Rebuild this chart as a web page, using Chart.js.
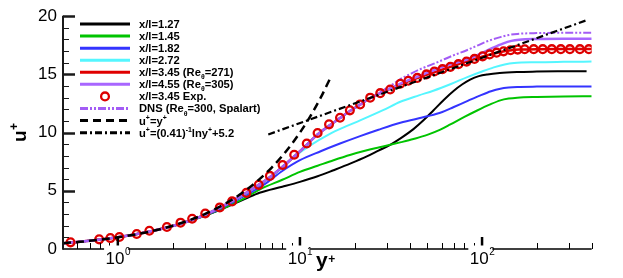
<!DOCTYPE html>
<html><head><meta charset="utf-8">
<script src="https://cdn.jsdelivr.net/npm/chart.js@4.4.1/dist/chart.umd.min.js"></script>
<style>html,body{margin:0;padding:0;background:#fff}#wrap{width:623px;height:278px}</style>
</head><body><div id="wrap"><canvas id="c" width="623" height="278"></canvas></div>
<script>
// ---------- data ----------
const yTickValues = [0, 5, 10, 15, 20];
const xMajorTicks = [1, 10, 100];
const xMajorExp = ['0', '1', '2'];

const yp127 = [0.5,0.7,1,1.5,2,2.5,3,3.5,4.3,5,6,8,10,12.5,15.3,19,23.3,27,31.3,36,42,48,54,62,70,78,86,96,107,125,156,200,260,375];
const up127 = [0.5,0.7,1,1.5,1.97,2.42,2.85,3.25,3.85,4.3,4.83,5.35,5.77,6.25,6.77,7.35,7.95,8.45,8.95,9.55,10.3,11.1,11.9,12.85,13.6,14.15,14.55,14.85,15.0,15.12,15.2,15.24,15.27,15.28];

const yp145 = [0.5,0.7,1,1.5,2,2.5,3,3.5,3.95,5,6,8,10,12.5,15.3,19,23.3,27,31.3,36,42,50,59,67,80,94,110,126,140,156,200,280,400];
const up145 = [0.5,0.7,1,1.5,1.97,2.43,2.87,3.28,3.63,4.4,5.11,5.95,6.62,7.15,7.63,8.1,8.48,8.72,8.95,9.18,9.45,9.8,10.25,10.7,11.35,11.9,12.4,12.77,12.92,13.0,13.06,13.1,13.12];

const yp182 = [0.5,0.7,1,1.5,2,2.5,3,3.5,4.67,5.5,6.55,8,10,13,16.6,21.4,27,35.6,50,60,70,84,98,112,126,140,156,200,280,400];
const up182 = [0.5,0.7,1,1.5,1.97,2.44,2.9,3.33,4.34,4.95,5.68,6.7,7.63,8.4,9.06,9.7,10.25,10.85,11.4,11.75,12.2,12.75,13.2,13.55,13.77,13.87,13.92,13.95,13.96,13.97];

const yp272 = [0.5,0.7,1,1.5,2,2.5,3,4,5,6,7.5,9.2,11,14.6,18,21.4,28.8,35.6,45,54,68,83,100,116,133,150,200,280,400];
const up272 = [0.5,0.7,1,1.5,1.97,2.44,2.92,3.88,4.72,5.5,6.6,7.85,8.75,9.9,10.55,11.05,11.95,12.65,13.2,13.6,14.2,14.77,15.25,15.6,15.85,15.98,16.05,16.08,16.1];

const yp345 = [0.5,0.7,1,1.5,2,2.5,3,4,5,6,7,8,9.3,10.9,12.5,14.5,16.6,18.8,21.4,24.3,27.6,31.3,35.6,40,45,50,55,62,70,80,90,100,115,130,145,160,200,280,400];
const up345 = [0.5,0.7,1,1.5,1.97,2.45,2.93,3.9,4.78,5.55,6.3,7.05,7.95,8.95,9.85,10.6,11.25,11.85,12.4,12.95,13.4,13.75,14.15,14.45,14.72,14.98,15.2,15.47,15.75,16.05,16.3,16.52,16.78,16.97,17.08,17.13,17.17,17.18,17.18];

const yp455 = [0.5,0.7,1,1.5,2,2.5,3,4,5,6,7,8,9.3,10.9,12.5,14.5,16.6,18.8,21.4,24.3,27.6,31.3,35.6,40,45,50,55,62,70,80,90,100,115,130,145,160,200,280,400];
const up455 = [0.5,0.7,1,1.5,1.97,2.45,2.93,3.9,4.78,5.55,6.3,7.05,7.95,8.95,9.85,10.6,11.25,11.85,12.4,12.95,13.4,13.78,14.2,14.55,14.85,15.15,15.4,15.7,15.95,16.2,16.52,16.85,17.3,17.65,17.88,17.98,18.04,18.06,18.06];

const ypDNS = [0.5,0.7,1,1.5,2,2.5,3,4,5,6,7,8,9.3,10.9,12.5,14.5,16.6,18.8,21.4,24.3,27.6,31.3,35.6,40,45,54,62,70,83,95,105,126,140,156,200,280,400];
const upDNS = [0.5,0.7,1,1.5,1.97,2.45,2.93,3.9,4.78,5.55,6.3,7.05,7.95,8.95,9.85,10.6,11.25,11.85,12.4,12.97,13.5,14.0,14.6,15.0,15.4,15.9,16.3,16.65,17.1,17.5,17.8,18.2,18.38,18.48,18.55,18.57,18.57];

const ypExp = [0.55,0.79,0.91,1.02,1.27,1.49,1.86,2.21,2.56,3.02,3.63,4.24,5.08,5.94,6.84,8.03,9.3,10.9,12.5,14.45,16.6,18.8,21.4,24.3,27.6,31.3,35.6,39.4,44.1,49.5,54.7,60.6,67.0,74.2,82.2,90.9,100.7,110,120.2,131.3,143.5,156.9,171.4,192.2,215.4,241.5,270.7,303.6,344.5,386];
const upExp = [0.57,0.83,0.94,1.03,1.29,1.57,1.89,2.26,2.6,3.05,3.57,4.09,4.82,5.51,6.28,7.22,8.1,9.06,9.97,10.71,11.28,11.91,12.42,13.0,13.39,13.7,14.2,14.45,14.7,15.0,15.25,15.45,15.65,15.88,16.1,16.33,16.55,16.72,16.87,16.98,17.08,17.13,17.16,17.17,17.17,17.17,17.17,17.17,17.17,17.17];

const ypLin = [0.5,0.6,0.7,0.85,1,1.2,1.5,2,2.5,3,4,5,6,7,8,9,10,11.5,13,14.7];
const upLin = [0.5,0.6,0.7,0.85,1,1.2,1.5,2,2.5,3,4,5,6,7,8,9,10,11.5,13,14.7];

const ypLog = [6.7, 370];
const upLog = [9.84, 19.62];

const legendLabels = [
  'x/l=1.27', 'x/l=1.45', 'x/l=1.82', 'x/l=2.72',
  'x/l=3.45 (Re_{θ}=271)', 'x/l=4.55 (Re_{θ}=305)', 'x/l=3.45 Exp.',
  'DNS (Re_{θ}=300, Spalart)', 'u^{+}=y^{+}', 'u^{+}=(0.41)^{-1}lny^{+}+5.2'
];

// ---------- build ----------
const pts = (xs, ys) => xs.map((x, i) => ({x: x, y: ys[i]}));
const FONT = '"Liberation Sans", Arial, Helvetica, sans-serif';

function lineDS(key, xs, ys, color, order, extra) {
  return Object.assign({
    key: key, data: pts(xs, ys), borderColor: color, backgroundColor: color,
    borderWidth: 2, pointRadius: 0, fill: false, cubicInterpolationMode: 'monotone',
    order: order
  }, extra || {});
}

const datasets = [
  lineDS('k', yp127, up127, '#000000', 9),
  lineDS('g', yp145, up145, '#00c400', 8),
  lineDS('b', yp182, up182, '#3434ff', 7),
  lineDS('c', yp272, up272, '#55f6ff', 6),
  lineDS('r', yp345, up345, '#e00000', 5, {borderWidth: 2.5}),
  lineDS('p', yp455, up455, '#a866ff', 4, {borderWidth: 2.5}),
  {key: 'e', data: pts(ypExp, upExp), showLine: false, pointStyle: 'circle', pointRadius: 3.9,
   pointBorderWidth: 2.3, pointBorderColor: '#dd0000', pointBackgroundColor: 'rgba(0,0,0,0)',
   borderColor: '#dd0000', backgroundColor: 'rgba(0,0,0,0)', order: 2},
  lineDS('d', ypDNS, upDNS, '#a35cf5', 3, {borderWidth: 2, borderDash: [8, 2, 2, 2, 2, 2]}),
  lineDS('l', ypLin, upLin, '#000000', 1, {borderWidth: 2.5, borderDash: [8, 5]}),
  lineDS('g2', ypLog, upLog, '#000000', 0, {borderWidth: 2.2, borderDash: [7, 3, 2, 3], cubicInterpolationMode: 'default', tension: 0})
];

function parseRich(s) {
  const out = []; let i = 0, buf = '';
  while (i < s.length) {
    const ch = s[i];
    if ((ch === '^' || ch === '_') && s[i + 1] === '{') {
      if (buf) { out.push({t: buf, k: 'n'}); buf = ''; }
      const j = s.indexOf('}', i);
      out.push({t: s.slice(i + 2, j), k: ch === '^' ? 'sup' : 'sub'});
      i = j + 1;
    } else { buf += ch; i++; }
  }
  if (buf) out.push({t: buf, k: 'n'});
  return out;
}
function drawRich(ctx, s, x, y, size, bold) {
  for (const g of parseRich(s)) {
    const fs = g.k === 'n' ? size : size * 0.62;
    const dy = g.k === 'sup' ? -size * 0.42 : g.k === 'sub' ? size * 0.28 : 0;
    ctx.font = (bold ? 'bold ' : '') + fs + 'px ' + FONT;
    ctx.fillText(g.t, x, y + dy);
    x += ctx.measureText(g.t).width;
  }
  return x;
}

const decor = {
  id: 'decor',
  afterDraw(chart) {
    const ctx = chart.ctx, xs = chart.scales.x, ys = chart.scales.y, a = chart.chartArea;
    ctx.save();
    ctx.textBaseline = 'alphabetic';
    ctx.textAlign = 'left';
    const L = a.left, B = ys.getPixelForValue(0);
    // x axis line
    ctx.strokeStyle = '#000'; ctx.lineWidth = 1.6;
    ctx.beginPath(); ctx.moveTo(L, B); ctx.lineTo(xs.getPixelForValue(400), B); ctx.stroke();
    // x minor ticks
    ctx.lineWidth = 1;
    const minors = [];
    [0.1, 1, 10, 100].forEach(d => { for (let m = 2; m <= 9; m++) minors.push(m * d); });
    minors.forEach(v => {
      if (v <= 0.5 || v > 400) return;
      const px = Math.round(xs.getPixelForValue(v)) + 0.5;
      ctx.beginPath(); ctx.moveTo(px, B); ctx.lineTo(px, B - 6); ctx.stroke();
    });
    // x major ticks
    ctx.lineWidth = 2.5;
    xMajorTicks.forEach(v => {
      const px = xs.getPixelForValue(v);
      ctx.beginPath(); ctx.moveTo(px, B); ctx.lineTo(px, B - 12); ctx.stroke();
    });
    // x labels with white boxes
    xMajorTicks.forEach((v, i) => {
      const px = xs.getPixelForValue(v);
      ctx.font = '17px ' + FONT;
      const w1 = ctx.measureText('10').width;
      ctx.font = '10px ' + FONT;
      const w2 = ctx.measureText(xMajorExp[i]).width;
      const x0 = px - (w1 + w2) / 2;
      ctx.fillStyle = '#fff';
      ctx.fillRect(x0 - 1.5, B - 3.5, w1 + w2 - 0.5, 24);
      ctx.fillStyle = '#000';
      ctx.font = '17px ' + FONT;
      ctx.fillText('10', x0, B + 15);
      ctx.font = '10px ' + FONT;
      ctx.fillText(xMajorExp[i], x0 + w1 + 0.5, B + 5.5);
    });
    // y axis line
    ctx.strokeStyle = '#1a1a1a'; ctx.lineWidth = 2;
    ctx.beginPath(); ctx.moveTo(L, B + 0.8); ctx.lineTo(L, ys.getPixelForValue(20) - 0.5); ctx.stroke();
    // y ticks
    for (let v = 1; v <= 20; v++) {
      const py = Math.round(ys.getPixelForValue(v)) + 0.5;
      const major = v % 5 === 0;
      ctx.lineWidth = major ? 2.5 : 1;
      ctx.beginPath(); ctx.moveTo(L, py); ctx.lineTo(L + (major ? 12 : 6), py); ctx.stroke();
    }
    // axis titles
    ctx.fillStyle = '#000';
    ctx.save();
    ctx.translate(26, 142); ctx.rotate(-Math.PI / 2);
    ctx.font = 'bold 19px ' + FONT; ctx.fillText('u', 0, 0);
    const wu = ctx.measureText('u').width;
    ctx.font = 'bold 12px ' + FONT; ctx.fillText('+', wu + 0.5, -8);
    ctx.restore();
    ctx.font = 'bold 21px ' + FONT; ctx.fillText('y', 316, 267);
    const wy = ctx.measureText('y').width;
    ctx.font = 'bold 12px ' + FONT; ctx.fillText('+', 316 + wy + 0.5, 263);

    // legend
    const rowY0 = 24, dy = 12.07, lx0 = 80, lx1 = 130, tx = 139;
    const order = ['k', 'g', 'b', 'c', 'r', 'p', 'e', 'd', 'l', 'g2'];
    order.forEach((k, i) => {
      const ds = chart.data.datasets.find(d => d.key === k);
      const yc = rowY0 + i * dy;
      if (k === 'e') {
        ctx.strokeStyle = ds.pointBorderColor; ctx.lineWidth = 2.3; ctx.setLineDash([]);
        ctx.beginPath(); ctx.arc((lx0 + lx1) / 2, yc, 3.9, 0, Math.PI * 2); ctx.stroke();
      } else {
        ctx.strokeStyle = ds.borderColor; ctx.lineWidth = 3;
        ctx.setLineDash(ds.borderDash || []);
        ctx.beginPath(); ctx.moveTo(lx0, yc); ctx.lineTo(lx1, yc); ctx.stroke();
        ctx.setLineDash([]);
      }
      ctx.fillStyle = '#000';
      drawRich(ctx, legendLabels[i], tx, yc + 4, 11.2, true);
    });
    ctx.restore();
  }
};

new Chart(document.getElementById('c'), {
  type: 'line',
  data: {datasets: datasets},
  options: {
    responsive: false, animation: false, devicePixelRatio: 1,
    layout: {padding: {left: 0, right: 31.3, top: 15.5, bottom: 0}},
    plugins: {legend: {display: false}, tooltip: {enabled: false}, title: {display: false}},
    elements: {point: {radius: 0}},
    scales: {
      x: {type: 'logarithmic', min: 0.5, max: 400,
          grid: {display: false, drawTicks: false}, border: {display: false},
          ticks: {display: false},
          afterFit(s) { s.height = 29; }},
      y: {type: 'linear', min: 0, max: 20,
          grid: {display: false, drawTicks: false}, border: {display: false},
          afterBuildTicks(s) { s.ticks = yTickValues.map(v => ({value: v})); },
          ticks: {padding: 6, color: '#000', font: {size: 17, family: FONT}},
          afterFit(s) { s.width = 63; }}
    }
  },
  plugins: [decor]
});
</script>
</body></html>
